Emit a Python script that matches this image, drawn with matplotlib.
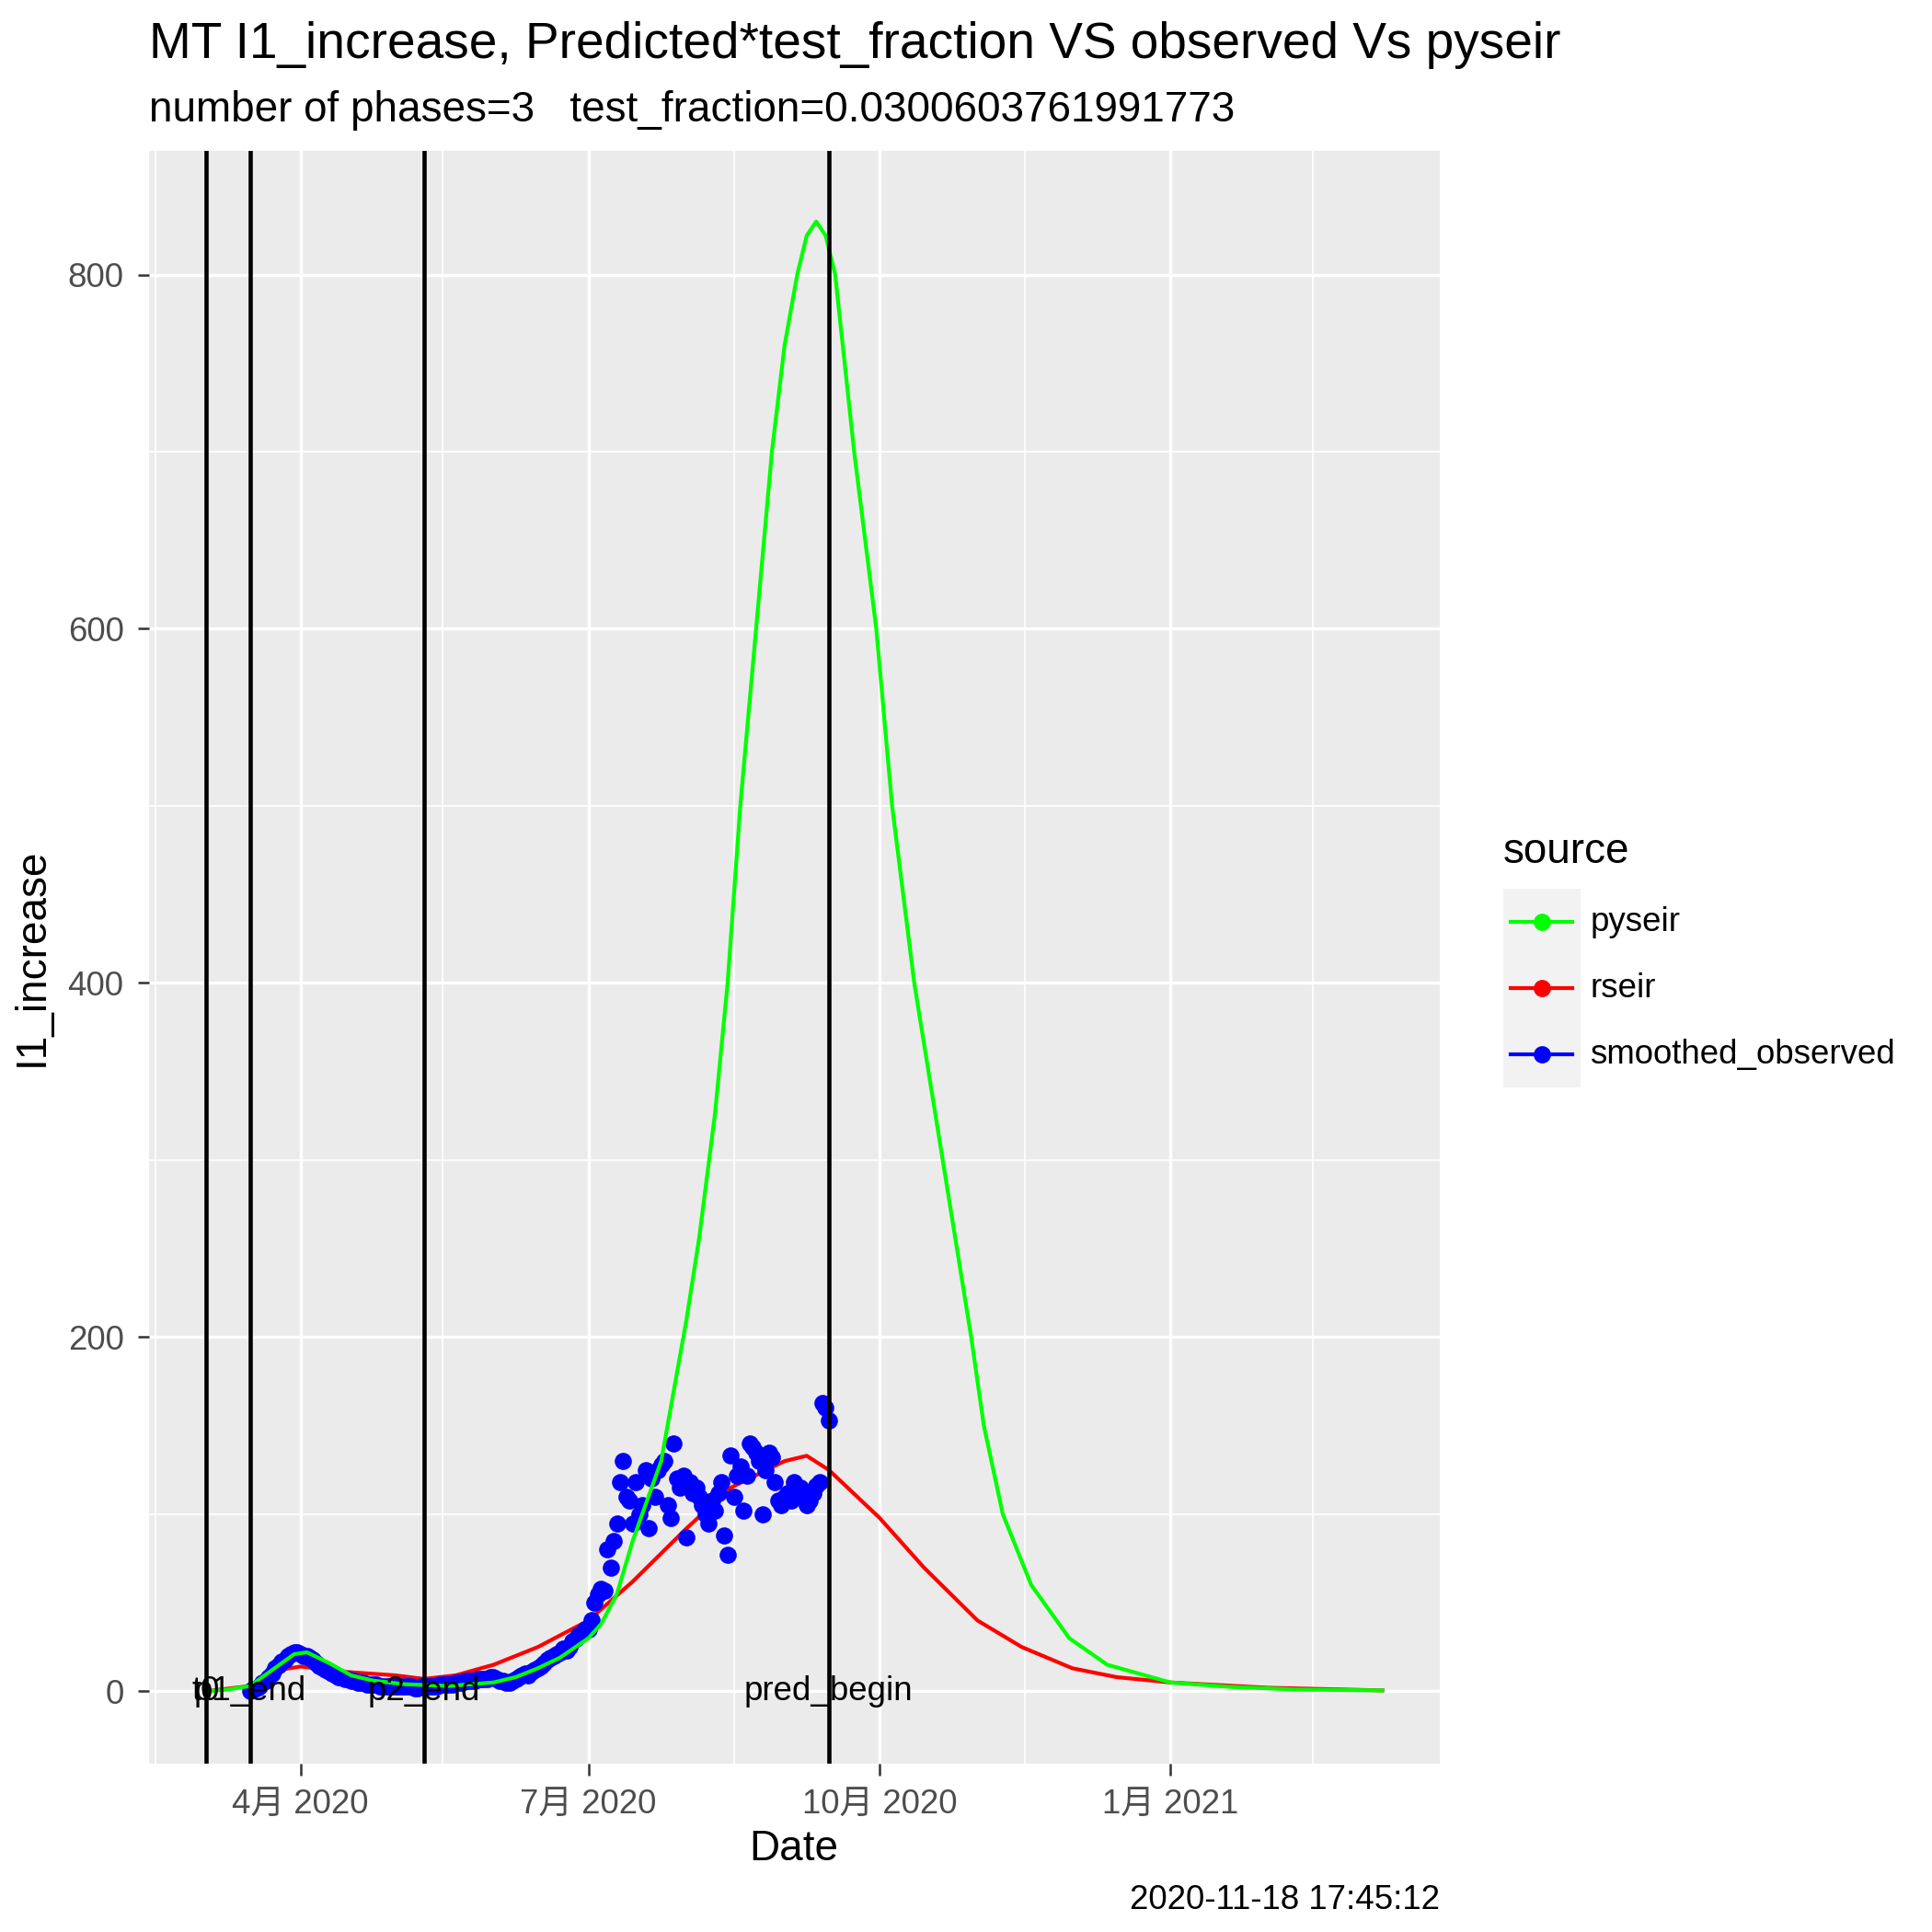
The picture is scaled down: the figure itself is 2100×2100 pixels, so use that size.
import matplotlib
matplotlib.use("Agg")
import matplotlib.pyplot as plt
import numpy as np
import datetime as dt

plt.rcParams['font.family'] = ['Liberation Sans', 'Noto Sans CJK SC', 'DejaVu Sans']

pyseir_dates = ["2020-03-02", "2020-03-09", "2020-03-16", "2020-03-23", "2020-03-30", "2020-04-03", "2020-04-10",
                "2020-04-17", "2020-04-24", "2020-05-04", "2020-05-18", "2020-06-01", "2020-06-08", "2020-06-15",
                "2020-06-22", "2020-07-01", "2020-07-05", "2020-07-10", "2020-07-15", "2020-07-20", "2020-07-24",
                "2020-07-28", "2020-08-01", "2020-08-05", "2020-08-10", "2020-08-14", "2020-08-18", "2020-08-23",
                "2020-08-28", "2020-09-01", "2020-09-05", "2020-09-08", "2020-09-11", "2020-09-14", "2020-09-17",
                "2020-09-23", "2020-09-30", "2020-10-05", "2020-10-12", "2020-10-21", "2020-10-30", "2020-11-03",
                "2020-11-09", "2020-11-18", "2020-11-30", "2020-12-12", "2021-01-01", "2021-01-20", "2021-02-10",
                "2021-03-09"]
pyseir_vals = [0, 1, 3, 12, 21, 22, 16, 9, 6, 4, 3, 5, 8, 13, 19, 30, 38, 55, 85, 110, 130,
               170, 210, 256, 326, 400, 500, 600, 700, 760, 800, 822, 830, 822, 800,
               700, 600, 500, 400, 300, 200, 150, 100, 60, 30, 15, 5, 2.5, 1, 0.5]

rseir_dates = ["2020-03-02", "2020-03-16", "2020-03-25", "2020-04-01", "2020-04-15", "2020-05-01", "2020-05-10",
               "2020-05-20", "2020-06-01", "2020-06-15", "2020-07-01", "2020-07-15", "2020-08-01", "2020-08-15",
               "2020-09-01", "2020-09-08", "2020-09-15", "2020-10-01", "2020-10-15", "2020-11-01", "2020-11-15",
               "2020-12-01", "2020-12-15", "2021-01-01", "2021-02-01", "2021-03-09"]
rseir_vals = [0, 3, 12, 14, 11, 9, 7, 9, 15, 25, 40, 62, 92, 115, 130, 133, 125, 98, 70, 40, 25,
              13, 8, 5, 2, 0.5]

obs_start = "2020-03-16"
obs_vals = [0, 1, 2, 3, 5, 6, 8, 10, 13, 15, 17, 18, 20, 21, 22, 22,
            21, 20, 20, 19, 18, 16, 14, 13, 12, 11, 10, 9, 8, 8, 7, 7, 6, 6, 5, 5, 5, 4, 4, 4, 4, 3, 3, 3, 3, 3,
            3, 3, 3, 3, 3, 3, 2, 2, 3, 3, 3, 3, 3, 3, 4, 4, 4, 4, 4, 5, 5, 5, 6, 6, 6, 6, 7, 7, 7, 7, 8,
            8, 7, 6, 6, 5, 5, 6, 7, 8, 9, 10, 9, 11, 12, 13, 14, 16, 18, 19, 20, 21, 22, 24, 23, 25, 28, 30, 32, 33, 35,
            35, 40, 50, 55, 58, 57, 80, 70, 85, 95, 118, 130, 110, 108, 95, 118, 100, 105, 125, 92, 120, 110, 125, 128,
            130, 105, 98, 140, 120, 115, 122,
            87, 118, 112, 115, 110, 105, 100, 95, 108, 102, 112, 118, 88, 77, 133, 110, 122, 127, 102, 122, 140, 138,
            135, 130, 100, 125, 135, 132, 118, 108, 105,
            110, 112, 108, 118, 112, 115, 110, 105, 108, 112, 116, 118, 163, 160, 153]

vlines = ["2020-03-02", "2020-03-16", "2020-05-10", "2020-09-15"]
vlabels = ["t0", "p1_end", "p2_end", "pred_begin"]

fig = plt.figure(figsize=(7, 7), dpi=300)
ax = fig.add_axes([0.077, 0.087, 0.668, 0.835])
ax.set_facecolor("#EBEBEB")
for s in ax.spines.values():
    s.set_visible(False)

xd = lambda lst: [dt.datetime.fromisoformat(s) for s in lst]
obs_dates = np.arange(np.datetime64(obs_start), np.datetime64(obs_start) + len(obs_vals)).astype(dt.datetime)

ax.plot(xd(rseir_dates), rseir_vals, color="red", lw=1.0, zorder=3)
ax.scatter(obs_dates, obs_vals, color="blue", s=20, zorder=4, linewidths=0)
ax.plot(xd(pyseir_dates), pyseir_vals, color="#00FF00", lw=1.0, zorder=5)

for d, lab in zip(xd(vlines), vlabels):
    ax.axvline(d, color="black", lw=1.1, zorder=6)
    ax.text(d, 0, lab, ha="center", va="center", fontsize=8.8, zorder=7)

ax.set_xlim(dt.datetime(2020, 2, 13), dt.datetime(2021, 3, 27))
ax.set_ylim(-41, 870)
major = [dt.datetime(2020, 4, 1), dt.datetime(2020, 7, 1), dt.datetime(2020, 10, 1), dt.datetime(2021, 1, 1)]
ax.set_xticks(major)
ax.set_xticklabels(["4月 2020", "7月 2020", "10月 2020", "1月 2021"])
ax.set_xticks([dt.datetime(2020, 2, 15), dt.datetime(2020, 5, 16), dt.datetime(2020, 8, 16),
               dt.datetime(2020, 11, 16), dt.datetime(2021, 2, 15)], minor=True)
ax.set_yticks([0, 200, 400, 600, 800])
ax.set_yticks([100, 300, 500, 700], minor=True)
ax.grid(which="major", color="white", lw=0.8)
ax.grid(which="minor", color="white", lw=0.4)
ax.set_axisbelow(True)
ax.tick_params(which="major", length=3, color="#333333", labelsize=8.8, labelcolor="#4D4D4D", width=0.6)
ax.tick_params(which="minor", length=0)
ax.set_xlabel("Date", fontsize=11, labelpad=2)
ax.set_ylabel("I1_increase", fontsize=11)

fig.text(0.077, 0.97, "MT I1_increase, Predicted*test_fraction VS observed Vs pyseir", fontsize=13.2, va="baseline")
fig.text(0.077, 0.937, "number of phases=3   test_fraction=0.0300603761991773", fontsize=11, va="baseline")
fig.text(0.745, 0.008, "2020-11-18 17:45:12", fontsize=8.8, ha="right", va="bottom")

# legend
fig.text(0.778, 0.559, "source", fontsize=11, va="center")
lg = fig.add_axes([0.778, 0.437, 0.04, 0.103])
lg.set_facecolor("#F2F2F2")
lg.set_xlim(0, 1)
lg.set_ylim(0, 3)
lg.set_xticks([])
lg.set_yticks([])
for s in lg.spines.values():
    s.set_visible(False)
for i, (c, name) in enumerate([("#00FF00", "pyseir"), ("red", "rseir"), ("blue", "smoothed_observed")]):
    yy = 2.5 - i
    lg.plot([0.1, 0.9], [yy, yy], color=c, lw=1.0)
    lg.plot([0.5], [yy], "o", color=c, ms=3.5)
    fig.text(0.823, 0.437 + 0.103 * yy / 3, name, fontsize=8.8, va="center")

fig.savefig("out.png", dpi=300)
